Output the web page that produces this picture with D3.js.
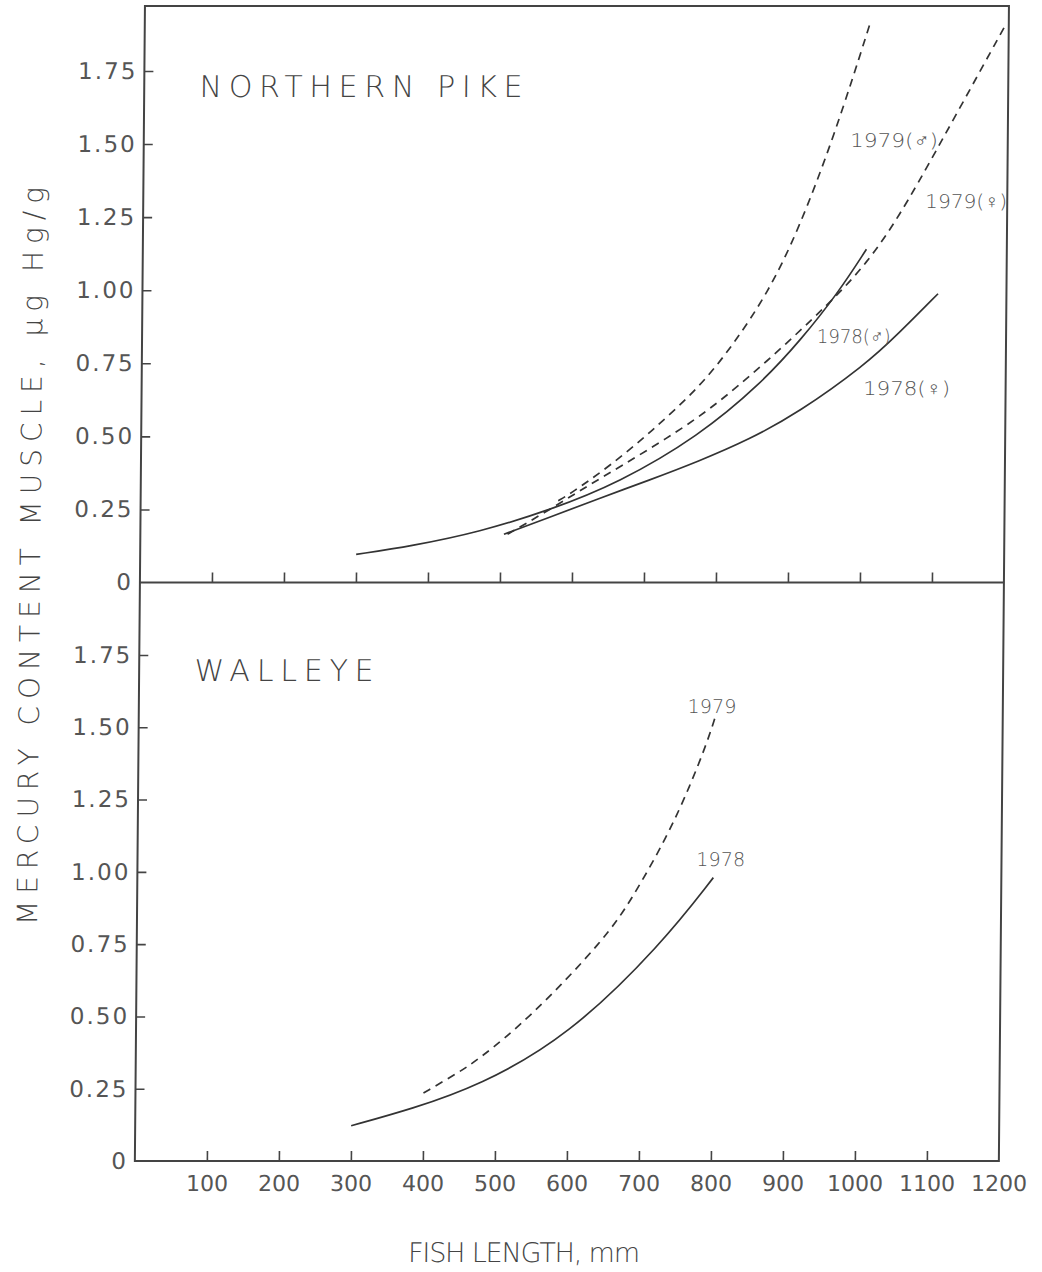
<!DOCTYPE html>
<html><head><meta charset="utf-8">
<script src="https://cdn.jsdelivr.net/npm/d3@7"></script>
<style>body{margin:0;background:#fff}</style>
</head><body>
<svg id="c" width="1042" height="1272"></svg>
<script>
// ---------- data ----------
const xTickValues = [100,200,300,400,500,600,700,800,900,1000,1100];
const xLabelValues = [100,200,300,400,500,600,700,800,900,1000,1100,1200];
const xTickLabels = ["100","200","300","400","500","600","700","800","900","1000","1100","1200"];
const yTickValues = [0,0.25,0.5,0.75,1.0,1.25,1.5,1.75];
const yTickLabels = ["0","0.25","0.50","0.75","1.00","1.25","1.50","1.75"];

// Northern pike (fish length mm, µg Hg/g)
const pike1978M = [[300,0.096],[377,0.125],[470,0.172],[571,0.25],[663,0.34],[774,0.50],[860,0.68],[915,0.83],[966,0.99],[1005,1.14]];
const pike1978F = [[505,0.165],[567,0.222],[636,0.287],[706,0.35],[775,0.415],[845,0.49],[912,0.58],[1005,0.745],[1050,0.85],[1105,0.988]];
const pike1979M = [[580,0.28],[597,0.304],[652,0.40],[707,0.513],[777,0.673],[822,0.817],[868,0.988],[910,1.203],[960,1.535],[1007,1.91]];
const pike1979F = [[510,0.165],[566,0.246],[617,0.325],[668,0.40],[728,0.49],[788,0.588],[866,0.75],[958,0.964],[1005,1.09],[1049,1.247],[1103,1.487],[1196,1.91]];
// Walleye
const walleye1978 = [[300,0.122],[384,0.18],[477,0.26],[600,0.43],[729,0.75],[800,0.98]];
const walleye1979 = [[400,0.235],[451,0.31],[475,0.35],[545,0.49],[651,0.77],[688,0.91],[735,1.12],[767,1.30],[790,1.45],[800,1.53]];

const pikeLabels = ["1979(♂)","1979(♀)","1978(♂)","1978(♀)"];
const walleyeLabels = ["1979","1978"];

// ---------- layout ----------
const W = 1042, H = 1272;
const FONT = "'DejaVu Sans', sans-serif";
const INK = "#333", TXT = "#555";
const svg = d3.select("#c");
svg.append("rect").attr("width", W).attr("height", H).attr("fill", "#fff");
const root = svg.append("g").attr("transform", "skewX(-0.5)");

const x = d3.scaleLinear().domain([0,1200]).range([145,1009]);
const yTop = d3.scaleLinear().domain([0,1.75]).range([582.5,71]);
const yBot = d3.scaleLinear().domain([0,1.75]).range([1161,655]);
const frameTopY = 6;

// frame
root.append("rect").attr("x", x(0)).attr("y", frameTopY)
  .attr("width", x(1200)-x(0)).attr("height", yBot(0)-frameTopY)
  .attr("fill","none").attr("stroke","#444").attr("stroke-width",2);
root.append("line").attr("x1",x(0)).attr("x2",x(1200)).attr("y1",yTop(0)).attr("y2",yTop(0))
  .attr("stroke","#444").attr("stroke-width",2);

function styleAxis(g, fs, ls){
  g.select(".domain").remove();
  g.attr("font-family", null).attr("font-size", null);
  g.selectAll("line").attr("stroke","#444").attr("stroke-width",1.6);
  g.selectAll("text").attr("fill",TXT).style("font-family",FONT)
    .style("font-size",fs+"px").style("font-weight","400").style("letter-spacing",ls+"px");
}

[yTop, yBot].forEach(ys => {
  const ya = d3.axisLeft(ys).tickValues(yTickValues)
    .tickFormat((d,i)=>yTickLabels[i]).tickSize(-9).tickPadding(7);
  const g = root.append("g").attr("transform",`translate(${x(0)},0)`).call(ya);
  styleAxis(g, 23, 2);
  g.selectAll(".tick").filter(d=>d===0).select("line").remove();
  const xa = d3.axisBottom(x).tickValues(xTickValues).tickFormat("").tickSize(-10);
  const gx = root.append("g").attr("transform",`translate(0,${ys(0)})`).call(xa);
  styleAxis(gx, 23, 0);
});

// x tick labels (bottom)
const xl = d3.axisBottom(x).tickValues(xLabelValues).tickFormat((d,i)=>xTickLabels[i]).tickSize(0).tickPadding(14);
const gxl = root.append("g").attr("transform",`translate(0,${yBot(0)})`).call(xl);
styleAxis(gxl, 22, 0);
gxl.selectAll("text").attr("dy","0.71em");

// curves
const lineTop = d3.line().x(d=>x(d[0])).y(d=>yTop(d[1])).curve(d3.curveBasis);
const lineBot = d3.line().x(d=>x(d[0])).y(d=>yBot(d[1])).curve(d3.curveBasis);
function drawCurve(gen, data, dashed){
  root.append("path").attr("d", gen(data)).attr("fill","none")
    .attr("stroke",INK).attr("stroke-width",1.7)
    .attr("stroke-dasharray", dashed ? "8,6" : null);
}
drawCurve(lineTop, pike1978M, false);
drawCurve(lineTop, pike1978F, false);
drawCurve(lineTop, pike1979M, true);
drawCurve(lineTop, pike1979F, true);
drawCurve(lineBot, walleye1978, false);
drawCurve(lineBot, walleye1979, true);

// curve labels (anchored in data space)
const pikeLabelPos = [[981,1.49],[1086,1.28],[937,0.82],[1002,0.64]];
const pikeLabelLen = [88,82,74,87];
pikeLabels.forEach((t,i)=>{
  root.append("text").attr("x",x(pikeLabelPos[i][0])).attr("y",yTop(pikeLabelPos[i][1]))
    .attr("textLength",pikeLabelLen[i]).attr("lengthAdjust","spacingAndGlyphs")
    .attr("fill",TXT).style("font-family",FONT).style("font-size","19px").style("font-weight","200")
    .text(t);
});
const walLabelPos = [[762,1.55],[776,1.02]];
walleyeLabels.forEach((t,i)=>{
  root.append("text").attr("x",x(walLabelPos[i][0])).attr("y",yBot(walLabelPos[i][1]))
    .attr("textLength",49).attr("lengthAdjust","spacing")
    .attr("fill",TXT).style("font-family",FONT).style("font-size","19px").style("font-weight","200")
    .text(t);
});

// panel titles
root.append("text").attr("x",x(77)).attr("y",yTop(1.66)).attr("textLength",323).attr("lengthAdjust","spacing")
  .attr("fill","#444").style("font-family",FONT).style("font-size","30px").style("font-weight","200").text("NORTHERN PIKE");
root.append("text").attr("x",x(77)).attr("y",yBot(1.66)).attr("textLength",179).attr("lengthAdjust","spacing")
  .attr("fill","#444").style("font-family",FONT).style("font-size","30px").style("font-weight","200").text("WALLEYE");

// axis titles
root.append("text").attr("transform","translate(45,556) rotate(-90)").attr("text-anchor","middle")
  .attr("textLength",738).attr("lengthAdjust","spacing")
  .attr("fill","#444").style("font-family",FONT).style("font-size","28px").style("font-weight","200")
  .text("MERCURY CONTENT MUSCLE, µg Hg/g");
root.append("text").attr("x",535).attr("y",1262).attr("text-anchor","middle")
  .attr("textLength",232).attr("lengthAdjust","spacing")
  .attr("fill","#444").style("font-family",FONT).style("font-size","27px").style("font-weight","200")
  .text("FISH LENGTH, mm");
</script>
</body></html>
